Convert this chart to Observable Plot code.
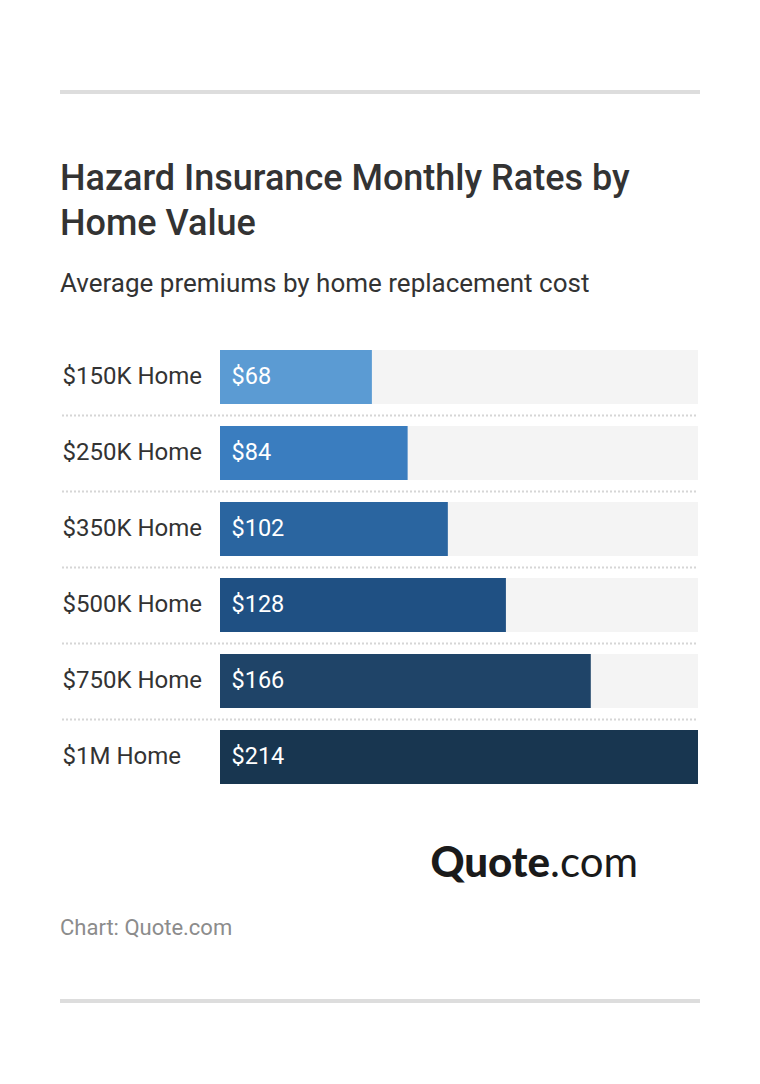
<!DOCTYPE html>
<html>
<head>
<meta charset="utf-8">
<script src="https://cdn.jsdelivr.net/npm/d3@7"></script>
<script src="https://cdn.jsdelivr.net/npm/@observablehq/plot@0.6"></script>
<style>
  html, body { margin: 0; padding: 0; background: #fff; }
  body { width: 760px; height: 1084px; position: relative; font-family: Roboto, "Noto Sans", sans-serif; }
  .rule { position: absolute; left: 60px; width: 640px; height: 4px; background: #dddddd; }
  #title { position: absolute; left: 60px; top: 156px; width: 640px; font-size: 36px; font-weight: 500; line-height: 45px; color: #333; }
  #subtitle { position: absolute; left: 60px; top: 268px; font-size: 26px; line-height: 30px; color: #333; }
  #chart { position: absolute; left: 0; top: 339px; }
  #logo { position: absolute; right: 122px; top: 836px; font-family: Lato, "Open Sans", sans-serif; font-size: 42px; color: #1a1a1a; line-height: 50px; }
  #logo b { font-weight: 900; }
  #caption { position: absolute; left: 60px; top: 914px; font-size: 22px; color: #8c8c8c; line-height: 28px; }
</style>
</head>
<body>
<div class="rule" style="top:90px"></div>
<div id="title">Hazard Insurance Monthly Rates by Home Value</div>
<div id="subtitle">Average premiums by home replacement cost</div>
<div id="chart"></div>
<div id="logo"><b>Quote</b>.com</div>
<div id="caption">Chart: Quote.com</div>
<div class="rule" style="top:999px"></div>
<script>
const categories = ["$150K Home", "$250K Home", "$350K Home", "$500K Home", "$750K Home", "$1M Home"];
const values = [68, 84, 102, 128, 166, 214];
const colors = ["#5b9bd3", "#3a7dbf", "#2a65a0", "#1f5083", "#1f4468", "#183650"];
const maxValue = 214;

const data = categories.map((c, i) => ({category: c, value: values[i], color: colors[i]}));
const separators = categories.slice(0, -1);

const step = 76, band = 54;
const chart = Plot.plot({
  width: 760,
  height: step * categories.length,
  marginLeft: 62,
  marginRight: 62,
  marginTop: 0,
  marginBottom: 0,
  style: {fontFamily: "Roboto, sans-serif", background: "transparent"},
  x: {domain: [0, maxValue], range: [220, 698], axis: null},
  y: {domain: categories, paddingInner: (step - band) / step, paddingOuter: (step - band) / step / 2, axis: null},
  color: {type: "identity"},
  marks: [
    Plot.barX(data, {y: "category", x1: 0, x2: maxValue, fill: "#f4f4f4"}),
    Plot.barX(data, {y: "category", x1: 0, x2: "value", fill: "color"}),
    Plot.ruleY(separators, {y: d => d, dy: step / 2, stroke: "#d6d6d6", strokeWidth: 2, strokeDasharray: "2,2"}),
    Plot.text(data, {y: "category", frameAnchor: "left", text: "category", textAnchor: "start", fontSize: 24, fill: "#333", dy: -1}),
    Plot.text(data, {y: "category", x: 0, dx: 11, text: d => "$" + d.value, textAnchor: "start", fontSize: 23.5, fill: "#fff", dy: -1})
  ]
});
document.getElementById("chart").appendChild(chart);
</script>
</body>
</html>
